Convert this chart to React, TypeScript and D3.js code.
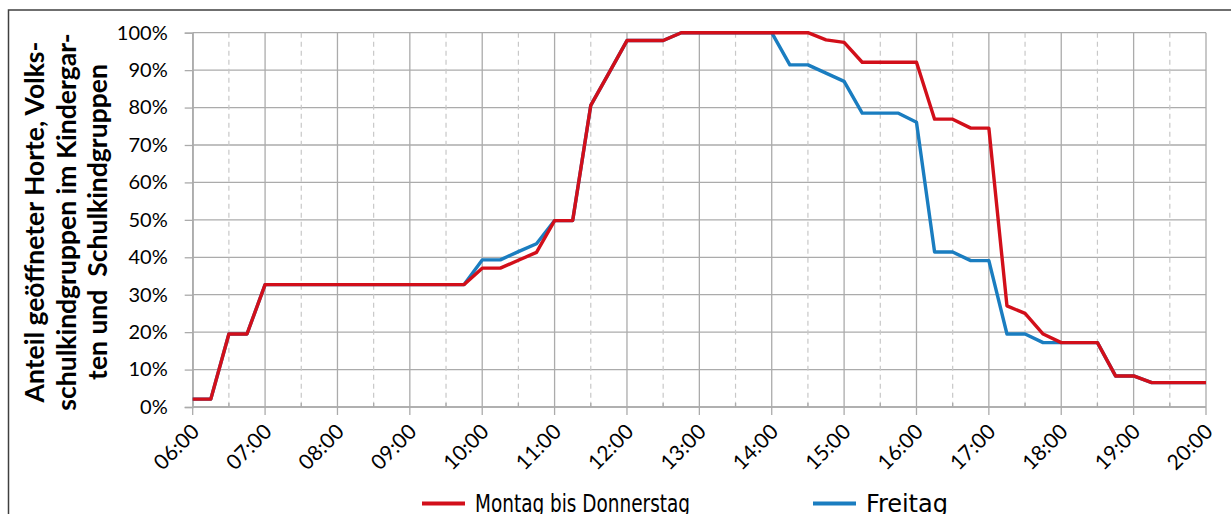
import React, { useEffect, useRef } from 'react';
import * as d3 from 'd3';

// quarter-hour categories
const times = [
  '06:00', '06:15', '06:30', '06:45', '07:00', '07:15', '07:30', '07:45',
  '08:00', '08:15', '08:30', '08:45', '09:00', '09:15', '09:30', '09:45',
  '10:00', '10:15', '10:30', '10:45', '11:00', '11:15', '11:30', '11:45',
  '12:00', '12:15', '12:30', '12:45', '13:00', '13:15', '13:30', '13:45',
  '14:00', '14:15', '14:30', '14:45', '15:00', '15:15', '15:30', '15:45',
  '16:00', '16:15', '16:30', '16:45', '17:00', '17:15', '17:30', '17:45',
  '18:00', '18:15', '18:30', '18:45', '19:00', '19:15', '19:30', '19:45',
  '20:00',
];

// Montag bis Donnerstag (%)
const monThu = [
  2.1, 2.1, 19.5, 19.5, 32.7, 32.7, 32.7, 32.7,
  32.7, 32.7, 32.7, 32.7, 32.7, 32.7, 32.7, 32.7,
  37.1, 37.1, 39.2, 41.3, 49.8, 49.8, 80.6, 89.2,
  97.9, 97.9, 97.9, 100, 100, 100, 100, 100,
  100, 100, 100, 98.1, 97.4, 92.1, 92.1, 92.1,
  92.1, 76.9, 76.9, 74.5, 74.5, 27.0, 25.0, 19.5,
  17.2, 17.2, 17.2, 8.3, 8.3, 6.5, 6.5, 6.5,
  6.5,
];

// Freitag (%)
const friday = [
  2.1, 2.1, 19.5, 19.5, 32.7, 32.7, 32.7, 32.7,
  32.7, 32.7, 32.7, 32.7, 32.7, 32.7, 32.7, 32.7,
  39.3, 39.3, 41.5, 43.6, 49.8, 49.8, 80.6, 89.2,
  97.9, 97.9, 97.9, 100, 100, 100, 100, 100,
  100, 91.4, 91.4, 89.2, 87.0, 78.5, 78.5, 78.5,
  76.1, 41.4, 41.4, 39.1, 39.1, 19.5, 19.5, 17.2,
  17.2, 17.2, 17.2, 8.3, 8.3, 6.5, 6.5, 6.5,
  6.5,
];

const hourTicks = [
  '06:00', '07:00', '08:00', '09:00', '10:00', '11:00', '12:00', '13:00',
  '14:00', '15:00', '16:00', '17:00', '18:00', '19:00', '20:00',
];
const halfHourTicks = [
  '06:30', '07:30', '08:30', '09:30', '10:30', '11:30', '12:30',
  '13:30', '14:30', '15:30', '16:30', '17:30', '18:30', '19:30',
];
const yTicks = [0, 10, 20, 30, 40, 50, 60, 70, 80, 90, 100];

const titleLines = [
  'Anteil geöffneter Horte, Volks-',
  'schulkindgruppen im Kindergar-',
  'ten und  Schulkindgruppen',
];

const series = [
  { name: 'Freitag', values: friday, color: '#1a7dc0' },
  { name: 'Montag bis Donnerstag', values: monThu, color: '#d20f1a' },
];

// legend placement, by series name
const legendPos: Record<string, { x: number; w: number }> = {
  'Montag bis Donnerstag': { x: 422, w: 215 },
  Freitag: { x: 813, w: 82 },
};

const W = 1231;
const H = 514;
const plot = { left: 192.7, right: 1206, top: 32.7, bottom: 407 };

export default function App() {
  const ref = useRef<SVGSVGElement>(null);

  useEffect(() => {
    const svg = d3.select(ref.current);
    svg.selectAll('*').remove();

    const parse = d3.timeParse('%H:%M');
    const x = d3.scaleTime()
      .domain([parse('06:00') as Date, parse('20:00') as Date])
      .range([plot.left, plot.right]);
    const y = d3.scaleLinear().domain([0, 100]).range([plot.bottom, plot.top]);

    svg.append('rect')
      .attr('width', W).attr('height', H).attr('fill', '#fff');

    // outer frame (runs off the bottom/right like the original)
    svg.append('rect')
      .attr('x', 8.5).attr('y', 10)
      .attr('width', 1300).attr('height', 600)
      .attr('fill', 'none')
      .attr('stroke', '#404040')
      .attr('stroke-width', 1.5);

    /* grid */
    const grid = svg.append('g');
    grid.selectAll('line.h').data(yTicks).join('line')
      .attr('class', 'h')
      .attr('x1', plot.left).attr('x2', plot.right)
      .attr('y1', d => y(d)).attr('y2', d => y(d))
      .attr('stroke', '#ababab').attr('stroke-width', 1.3);

    grid.selectAll('line.half').data(halfHourTicks).join('line')
      .attr('class', 'half')
      .attr('x1', d => x(parse(d) as Date)).attr('x2', d => x(parse(d) as Date))
      .attr('y1', plot.top).attr('y2', plot.bottom)
      .attr('stroke', '#c8c8c8').attr('stroke-width', 1.2)
      .attr('stroke-dasharray', '5,4');

    grid.selectAll('line.hour').data(hourTicks).join('line')
      .attr('class', 'hour')
      .attr('x1', d => x(parse(d) as Date)).attr('x2', d => x(parse(d) as Date))
      .attr('y1', plot.top).attr('y2', plot.bottom + 8)
      .attr('stroke', '#ababab').attr('stroke-width', 1.3);

    // minor ticks (inside)
    grid.selectAll('line.minor').data(halfHourTicks).join('line')
      .attr('class', 'minor')
      .attr('x1', d => x(parse(d) as Date)).attr('x2', d => x(parse(d) as Date))
      .attr('y1', plot.bottom - 4).attr('y2', plot.bottom)
      .attr('stroke', '#ababab').attr('stroke-width', 1.3);

    /* y axis */
    const yAxis = d3.axisLeft(y)
      .tickValues(yTicks)
      .tickFormat(d => d + '%')
      .tickSize(8)
      .tickPadding(17);
    const gy = svg.append('g')
      .attr('transform', `translate(${plot.left},0)`)
      .call(yAxis);
    gy.select('.domain').attr('stroke', '#ababab').attr('stroke-width', 1.3);
    gy.selectAll('.tick line').attr('stroke', '#ababab').attr('stroke-width', 1.3);
    gy.selectAll('.tick text')
      .attr('font-family', 'Lato, sans-serif')
      .attr('font-size', 20)
      .attr('fill', '#000');

    /* x axis line + labels */
    svg.append('line')
      .attr('x1', plot.left).attr('x2', plot.right)
      .attr('y1', plot.bottom).attr('y2', plot.bottom)
      .attr('stroke', '#ababab').attr('stroke-width', 1.3);

    svg.append('g').selectAll('text').data(hourTicks).join('text')
      .attr('transform', d => `translate(${x(parse(d) as Date) + 8},${plot.bottom + 26}) rotate(-45)`)
      .attr('text-anchor', 'end')
      .attr('font-family', 'Lato, sans-serif')
      .attr('font-size', 21)
      .attr('fill', '#000')
      .text(d => d);

    /* y title */
    const title = svg.append('g');
    title.selectAll('text').data(titleLines).join('text')
      .attr('transform', (d, i) => `translate(${44 + i * 31.5},222) rotate(-90)`)
      .attr('text-anchor', 'middle')
      .attr('font-family', 'Lato, sans-serif')
      .attr('font-weight', 'bold')
      .attr('font-size', 26.5)
      .attr('fill', '#000')
      .style('white-space', 'pre')
      .text(d => d);

    /* lines */
    const line = d3.line<number>()
      .x((d, i) => x(parse(times[i]) as Date))
      .y(d => y(d));

    svg.append('g').selectAll('path').data(series).join('path')
      .attr('d', d => line(d.values))
      .attr('fill', 'none')
      .attr('stroke', d => d.color)
      .attr('stroke-width', 3.4)
      .attr('stroke-linejoin', 'round');

    /* legend */
    const legend = svg.append('g').selectAll('g').data(series).join('g')
      .attr('transform', d => `translate(${legendPos[d.name].x},503.5)`);
    legend.append('line')
      .attr('x1', 0).attr('x2', 43)
      .attr('stroke', d => d.color)
      .attr('stroke-width', 4);
    legend.append('text')
      .attr('x', 53).attr('y', 8)
      .attr('font-family', '"DejaVu Sans Condensed", "DejaVu Sans", sans-serif')
      .attr('font-size', 24)
      .attr('textLength', d => legendPos[d.name].w)
      .attr('lengthAdjust', 'spacingAndGlyphs')
      .attr('fill', '#000')
      .text(d => d.name);
  }, []);

  return (
    <svg
      ref={ref}
      width={W}
      height={H}
      style={{ position: 'absolute', left: 0, top: 0 }}
    />
  );
}
